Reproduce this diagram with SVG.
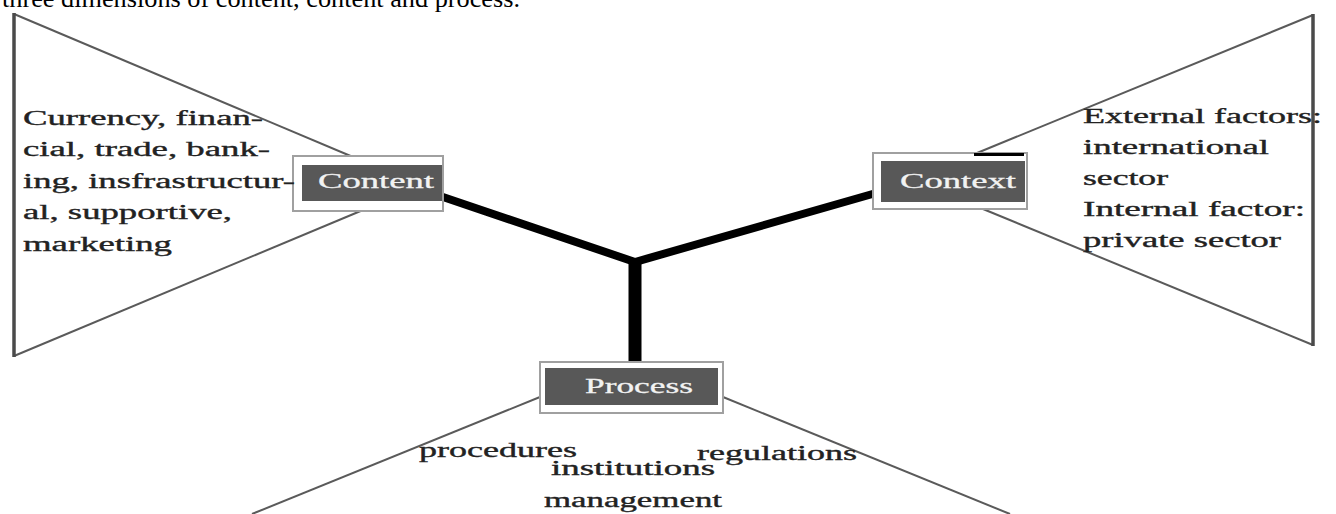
<svg xmlns="http://www.w3.org/2000/svg" width="1336" height="514" viewBox="0 0 1336 514">
<style>
.edge{fill:none;stroke:#5a5a5a;stroke-width:2}
.side{fill:none;stroke:#4a4a4a;stroke-width:3.5}
.frame{fill:#fff;stroke:#a0a0a0;stroke-width:2}
.inner{fill:#585858}
.lbl{font-family:"Liberation Serif","Times New Roman",serif;font-size:21px;fill:#f2f2f2;stroke:#f2f2f2;stroke-width:0.3}
.txt{font-family:"Liberation Serif","Times New Roman",serif;font-size:20px;fill:#222;stroke:#222;stroke-width:0.35}
.con{fill:none;stroke:#000;stroke-linecap:butt}
</style>
<rect width="1336" height="514" fill="#fff"/>
<text x="2" y="7" font-family="'Liberation Serif','Times New Roman',serif" font-size="26" fill="#000" textLength="518" lengthAdjust="spacingAndGlyphs">three dimensions of content, content and process.</text>

<g id="fans">
<polyline class="edge" points="353,157 14,14"/>
<polyline class="edge" points="363,210 14,356"/>
<line class="side" x1="14" y1="13" x2="14" y2="357"/>
<polyline class="edge" points="977,153 1313,15"/>
<polyline class="edge" points="983,209 1313,345"/>
<line class="side" x1="1313" y1="14" x2="1313" y2="346"/>
<line class="edge" x1="540" y1="397" x2="252" y2="514"/>
<line class="edge" x1="723" y1="397" x2="1010" y2="514"/>
</g>

<g id="connectors">
<polyline class="con" stroke-width="8" points="440,196 635,262 876,193"/>
<line class="con" stroke-width="13" x1="635" y1="258" x2="635" y2="364"/>
</g>

<g id="content">
<rect class="frame" x="293" y="156" width="150" height="55"/>
<rect class="inner" x="302" y="165" width="140" height="36"/>
<text class="lbl" x="318" y="188" textLength="116" lengthAdjust="spacingAndGlyphs">Content</text>
<g class="txt">
<text x="23" y="125" textLength="240" lengthAdjust="spacingAndGlyphs">Currency, finan-</text>
<text x="23" y="156" textLength="247" lengthAdjust="spacingAndGlyphs">cial, trade, bank-</text>
<text x="23" y="188" textLength="272" lengthAdjust="spacingAndGlyphs">ing, insfrastructur-</text>
<text x="23" y="219" textLength="209" lengthAdjust="spacingAndGlyphs">al, supportive,</text>
<text x="23" y="251" textLength="149" lengthAdjust="spacingAndGlyphs">marketing</text>
</g>
</g>

<g id="context">
<rect class="frame" x="873" y="153" width="154" height="56"/>
<line x1="974" y1="154.5" x2="1024" y2="154.5" stroke="#000" stroke-width="3"/>
<rect class="inner" x="881" y="161" width="144" height="41"/>
<text class="lbl" x="900" y="188" textLength="116" lengthAdjust="spacingAndGlyphs">Context</text>
<g class="txt">
<text x="1083" y="123" textLength="239" lengthAdjust="spacingAndGlyphs">External factors:</text>
<text x="1083" y="154" textLength="186" lengthAdjust="spacingAndGlyphs">international</text>
<text x="1083" y="185" textLength="85" lengthAdjust="spacingAndGlyphs">sector</text>
<text x="1083" y="216" textLength="222" lengthAdjust="spacingAndGlyphs">Internal factor:</text>
<text x="1083" y="247" textLength="198" lengthAdjust="spacingAndGlyphs">private sector</text>
</g>
</g>

<g id="process">
<rect class="frame" x="540" y="362" width="183" height="51"/>
<rect class="inner" x="545" y="368" width="173" height="37"/>
<text class="lbl" x="585" y="393" textLength="108" lengthAdjust="spacingAndGlyphs">Process</text>
<g class="txt">
<text x="419" y="457" textLength="158" lengthAdjust="spacingAndGlyphs">procedures</text>
<text x="697" y="460" textLength="160" lengthAdjust="spacingAndGlyphs">regulations</text>
<text x="551" y="475" textLength="164" lengthAdjust="spacingAndGlyphs">institutions</text>
<text x="544" y="507" textLength="178" lengthAdjust="spacingAndGlyphs">management</text>
</g>
</g>
</svg>
